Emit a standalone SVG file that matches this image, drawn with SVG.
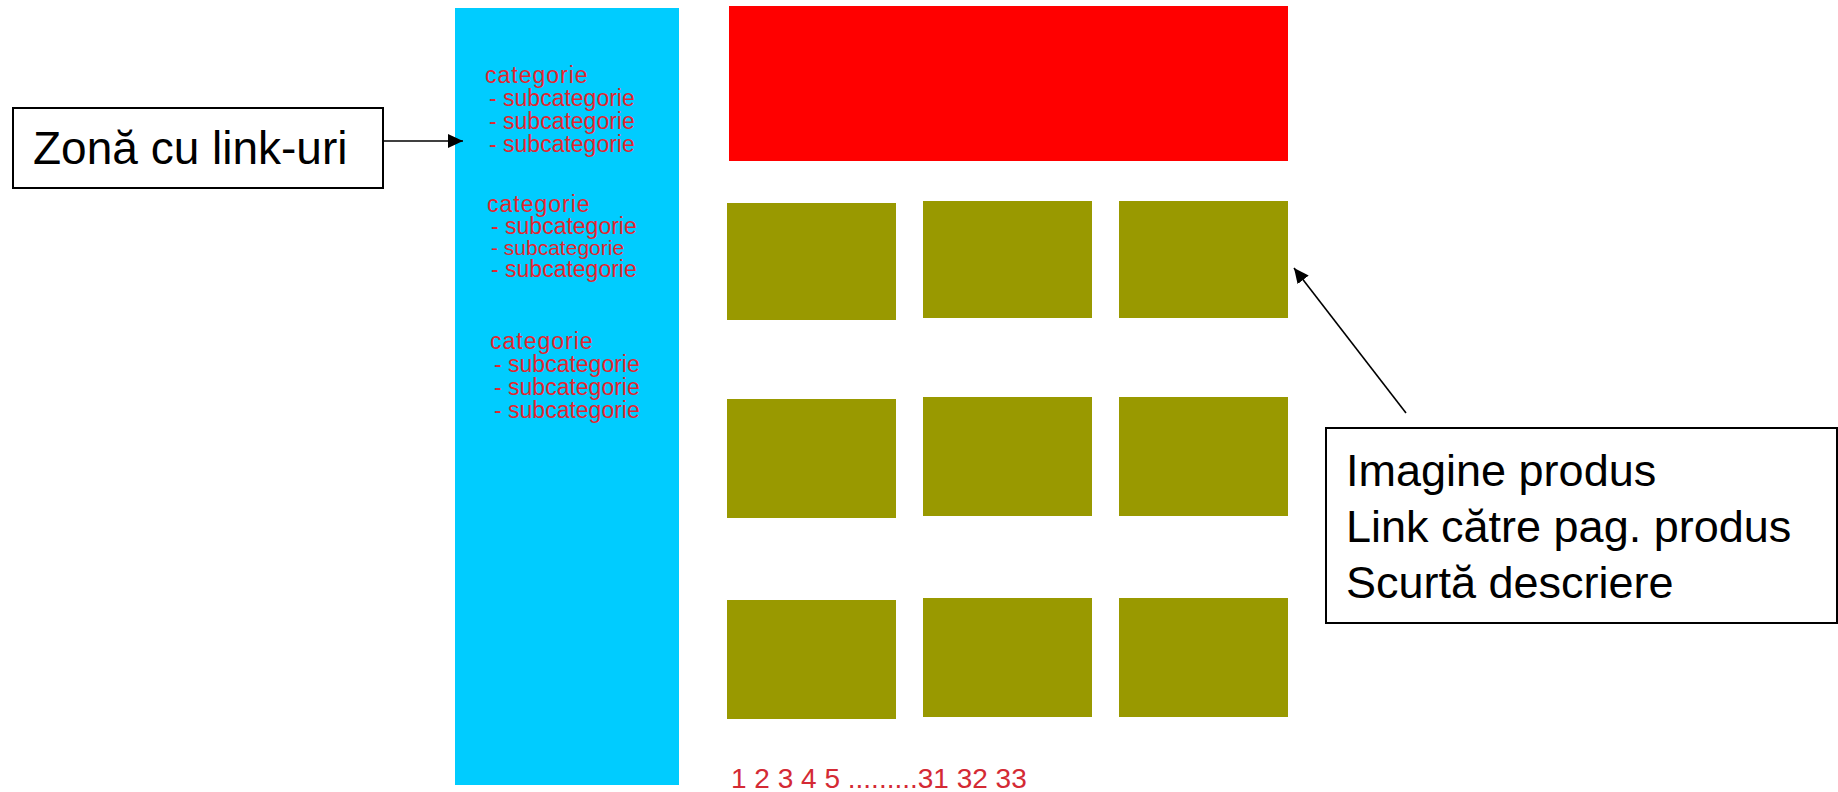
<svg xmlns="http://www.w3.org/2000/svg" width="1838" height="792" viewBox="0 0 1838 792">
<defs>
<style>
.lbl{font-family:"Liberation Sans",Arial,sans-serif;font-size:45px;fill:#000}
.cat{font-family:"Liberation Sans",Arial,sans-serif;font-size:23px;fill:#e3262f}
.cat.h{letter-spacing:1px}
.box{fill:#fff;stroke:#000;stroke-width:2}
.prod{fill:#999900}
.conn{stroke:#000;stroke-width:1.6;fill:none;marker-end:url(#ah)}
</style>
<marker id="ah" viewBox="0 0 15 14" refX="15" refY="7" markerWidth="15" markerHeight="14" markerUnits="userSpaceOnUse" orient="auto">
<path d="M0,0 L15,7 L0,14 z" fill="#000"/>
</marker>
</defs>
<rect width="1838" height="792" fill="#fff"/>
<g id="sidebar">
<rect x="455" y="8" width="224" height="777" fill="#00ccff"/>
<text class="cat h" x="485" y="83">categorie</text>
<text class="cat" x="489" y="106"> - subcategorie</text>
<text class="cat" x="489" y="129"> - subcategorie</text>
<text class="cat" x="489" y="152"> - subcategorie</text>
<text class="cat h" x="487" y="212">categorie</text>
<text class="cat" x="491" y="234"> - subcategorie</text>
<text class="cat" x="491" y="255" style="font-size:21px"> - subcategorie</text>
<text class="cat" x="491" y="277"> - subcategorie</text>
<text class="cat h" x="490" y="349">categorie</text>
<text class="cat" x="494" y="372"> - subcategorie</text>
<text class="cat" x="494" y="395"> - subcategorie</text>
<text class="cat" x="494" y="418"> - subcategorie</text>
</g>
<g id="header"><rect x="729" y="6" width="559" height="155" fill="#ff0000"/></g>
<g id="products">
<rect class="prod" x="727" y="203" width="169" height="117"/>
<rect class="prod" x="923" y="201" width="169" height="117"/>
<rect class="prod" x="1119" y="201" width="169" height="117"/>
<rect class="prod" x="727" y="399" width="169" height="119"/>
<rect class="prod" x="923" y="397" width="169" height="119"/>
<rect class="prod" x="1119" y="397" width="169" height="119"/>
<rect class="prod" x="727" y="600" width="169" height="119"/>
<rect class="prod" x="923" y="598" width="169" height="119"/>
<rect class="prod" x="1119" y="598" width="169" height="119"/>
</g>
<g id="pagination"><text x="731" y="788" style="font-family:'Liberation Sans',Arial,sans-serif;font-size:28px;fill:#d42a34">1 2 3 4 5 .........31 32 33</text></g>
<g id="label-links">
<rect class="box" x="13" y="108" width="370" height="80"/>
<text class="lbl" x="33" y="164" style="font-size:46px">Zonă cu link-uri</text>
</g>
<g id="label-product">
<rect class="box" x="1326" y="428" width="511" height="195"/>
<text class="lbl" x="1346" y="486">Imagine produs</text>
<text class="lbl" x="1346" y="542">Link către pag. produs</text>
<text class="lbl" x="1346" y="598">Scurtă descriere</text>
</g>
<g id="connectors">
<line class="conn" x1="383" y1="141" x2="463" y2="141"/>
<line class="conn" x1="1406" y1="413" x2="1294" y2="268"/>
</g>
</svg>
